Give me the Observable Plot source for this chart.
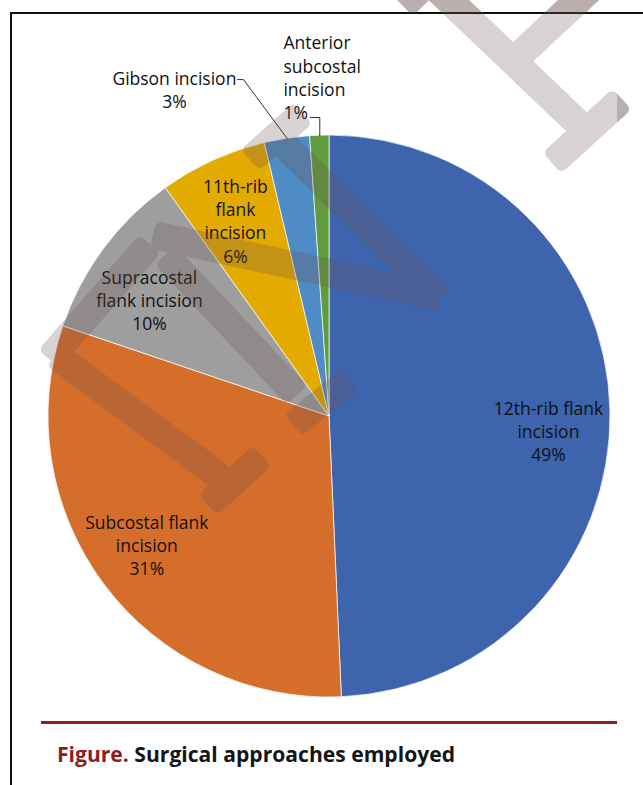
<!DOCTYPE html>
<html><head><meta charset="utf-8">
<script src="https://cdn.jsdelivr.net/npm/d3@7"></script>
<script src="https://cdn.jsdelivr.net/npm/@observablehq/plot@0.6"></script>
<style>
html,body{margin:0;padding:0;background:#fff;}
body{width:643px;height:785px;position:relative;overflow:hidden;font-family:"Open Sans",sans-serif;}
#frame{position:absolute;left:9.5px;top:11.5px;width:800px;height:900px;border-left:2.5px solid #111;border-top:2.5px solid #111;}
#chart{position:absolute;left:0;top:0;}
#rule{position:absolute;left:41px;top:721px;width:576px;height:2.5px;background:#8C2226;}
#caption{position:absolute;left:57px;top:742px;font:700 21px/24px "Open Sans",sans-serif;color:#151515;white-space:nowrap;transform-origin:0 50%;}
#caption .fig{color:#8C1D22;}
#wm{position:absolute;left:0;top:0;pointer-events:none;}
</style></head><body>
<div id="frame"></div>
<div id="chart"></div>
<div id="rule"></div>
<div id="caption"><span class="fig">Figure.</span> Surgical approaches employed</div>
<svg id="wm" width="643" height="785"></svg>
<script>
// ---- data ----
const categories = ["12th-rib flank incision", "Subcostal flank incision", "Supracostal flank incision", "11th-rib flank incision", "Gibson incision", "Anterior subcostal incision"];
const shares = [49.3, 30.9, 9.9, 6.2, 2.6, 1.1];
const percentLabels = ["49%", "31%", "10%", "6%", "3%", "1%"];
const labelNames = ["12th-rib flank\nincision", "Subcostal flank\nincision", "Supracostal\nflank incision", "11th-rib\nflank\nincision", "Gibson incision", "Anterior\nsubcostal\nincision"];
const sliceColors = ["#3D64AD", "#D56E2B", "#9E9E9E", "#E3AA00", "#4F8BC4", "#609B3E"];

// ---- layout (data units: pie radius = 1, centre = 0,0) ----
const labelPos = [[0.779, -0.050], [-0.650, -0.456], [-0.641, 0.416], [-0.335, 0.698], [-0.552, 1.166], [-0.164, 1.209]];
const leaderElbow = [null, null, null, null, [-0.306, 1.199, -0.327], [null, 1.064, -0.068]];

const rows = categories.map((c, i) => ({category: c, share: shares[i], pct: percentLabels[i], name: labelNames[i], color: sliceColors[i], lx: labelPos[i][0], ly: labelPos[i][1]}));
const arcs = d3.pie().sort(null).value(d => d.share)(rows);

const slices = (index, scales) => {
  const cx = scales.x(0), cy = scales.y(0), r = Math.abs(scales.x(1) - scales.x(0));
  const g = d3.create("svg:g").attr("transform", `translate(${cx},${cy})`);
  const arc = d3.arc().innerRadius(0).outerRadius(r);
  g.selectAll("path").data(arcs).join("path")
    .attr("d", arc).attr("fill", d => d.data.color)
    .attr("stroke", "#fff").attr("stroke-width", 0.7).attr("stroke-linejoin", "round");
  return g.node();
};

const leaders = [];
arcs.forEach((a, i) => {
  const e = leaderElbow[i];
  if (!e) return;
  const m = (a.startAngle + a.endAngle) / 2;
  const px = Math.sin(m), py = Math.cos(m);
  const ex = e[0] == null ? px : e[0];
  leaders.push({category: a.data.category, x: px, y: py});
  leaders.push({category: a.data.category, x: ex, y: e[1]});
  leaders.push({category: a.data.category, x: e[2], y: e[1]});
});

const txt = {fontSize: 17.5, lineHeight: 1.33, fill: "#111", lineAnchor: "middle", fontFamily: "Open Sans"};
const chart = Plot.plot({
  width: 643, height: 710,
  marginLeft: 48, marginRight: 33, marginTop: 135, marginBottom: 13,
  x: {domain: [-1, 1], axis: null},
  y: {domain: [-1, 1], axis: null},
  style: {background: "transparent", fontFamily: "Open Sans"},
  marks: [
    slices,
    Plot.text(rows.slice(0, 5), {x: "lx", y: "ly", text: d => d.name + "\n" + d.pct, textAnchor: "middle", ...txt}),
    Plot.text(rows.slice(5), {x: "lx", y: "ly", text: d => d.name + "\n" + d.pct, textAnchor: "start", ...txt}),
    Plot.line(leaders, {x: "x", y: "y", z: "category", stroke: "#1a1a1a", strokeWidth: 0.9})
  ]
});
document.getElementById("chart").append(chart);

// ---- decorative watermark overlay ----
const wmBands = [
  [430, -18, 582, 127], [600, -20, 512, 62], [552, 163, 622, 99], [403, 6, 440, -30],
  [250, 160, 303, 113], [283, 144, 440, 299], [153, 235, 440, 297], [49, 359, 150, 244],
  [165, 255, 297, 395], [293, 425, 350, 380], [55, 355, 222, 478], [208, 505, 262, 456]
];
const wm = d3.select("#wm");
wm.append("clipPath").attr("id", "outer").append("path").attr("d", "M0,0H643V785H617V12.5H0Z");
function drawBands(g) {
  wmBands.forEach(([x1, y1, x2, y2]) => {
    const L = Math.hypot(x2 - x1, y2 - y1), ang = Math.atan2(y2 - y1, x2 - x1) * 180 / Math.PI;
    g.append("rect").attr("x", 0).attr("y", -14).attr("width", L).attr("height", 28).attr("rx", 6)
      .attr("transform", `translate(${x1},${y1}) rotate(${ang})`);
  });
}
drawBands(wm.append("g").attr("opacity", 0.26).attr("fill", "rgb(107,83,83)"));
drawBands(wm.append("g").attr("opacity", 0.28).attr("fill", "rgb(107,83,83)").attr("clip-path", "url(#outer)"));

// caption width fit
const fit = () => {
  const cap = document.getElementById("caption");
  cap.style.transform = "none";
  const w = cap.getBoundingClientRect().width;
  if (w > 0) cap.style.transform = `scaleX(${398 / w})`;
};
fit();
if (document.fonts) document.fonts.ready.then(fit);
</script>
</body></html>
